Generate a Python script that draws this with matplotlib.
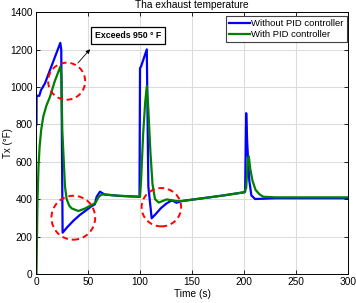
import numpy as np
import matplotlib
matplotlib.use("Agg")
import matplotlib.pyplot as plt
from matplotlib.patches import Ellipse

plt.rcParams['font.family'] = ['Liberation Sans', 'DejaVu Sans']

# without PID (blue)
t_nopid = [0.5, 0.6, 3.2, 4.8, 8.6, 23.4, 24.3, 25.6, 30, 36, 42, 48, 53.5, 56.5, 58.3, 61.5,
           66, 80, 99.5, 100, 101, 106.5, 108, 111.2, 115, 120, 125.6, 130, 132, 135, 140,
           160, 180, 200, 201, 202, 203, 205, 207, 210.6, 230, 300]
T_nopid = [800, 953, 953, 983, 1019, 1236, 1200, 221, 250, 285, 315, 340, 363, 372, 413, 440,
           425, 418, 413, 1100, 1110, 1201, 467, 298, 320, 352, 378, 392, 390, 381, 390,
           405, 420, 437, 440, 860, 700, 500, 420, 401, 405, 405]

# with PID (green)
t_pid = [0.5, 1.5, 2.5, 3.5, 5, 7, 10, 13.5, 18, 23.5, 24.5, 25.3, 27.9, 29.5, 32, 34.3, 40.7,
         47, 53.5, 57, 60, 63, 66, 80, 100, 101, 103, 105, 106.5, 108, 110, 112, 114.4, 118,
         125.6, 130, 135, 140, 160, 180, 200, 202, 203.5, 204.5, 206, 208, 211, 215, 218.6, 230, 300]
T_pid = [0, 400, 580, 680, 770, 841, 900, 948, 1030, 1110, 1050, 770, 467, 400, 365, 351, 337,
         350, 369, 380, 410, 425, 425, 418, 413, 500, 750, 920, 1005, 880, 650, 480, 400, 382,
         399, 395, 390, 390, 405, 420, 437, 460, 600, 630, 560, 500, 450, 425, 413, 410, 410]

# red dashed circles: centre t, centre T, width (s), height (degF)
circles = [(29.5, 1031, 35.6, 198), (35.9, 301, 42, 235), (120.5, 357, 38, 205)]

fig = plt.figure(figsize=(3.56, 3.03), dpi=100)
ax = fig.add_axes([0.101, 0.0957, 0.877, 0.864])

ax.plot(t_nopid, T_nopid, color=(0, 0, 1), lw=1.6, label='Without PID controller')
ax.plot(t_pid, T_pid, color=(0, 0.5, 0), lw=1.6, label='With PID controller')

for cx, cy, w, h in circles:
    ax.add_patch(Ellipse((cx, cy), w, h, fill=False, edgecolor='red', ls=(0, (3, 2)), lw=1.4, zorder=5))

ax.annotate('', xy=(53.8, 1213), xytext=(38.5, 1117),
            arrowprops=dict(arrowstyle='-|>', color='black', lw=0.6, mutation_scale=6))
ax.text(56.5, 1274, 'Exceeds 950 ° F', fontsize=6.3, fontweight='bold', va='center', ha='left',
        bbox=dict(boxstyle='square,pad=0.45', fc='white', ec='black', lw=0.9))

ax.set_xlim(0, 300)
ax.set_ylim(0, 1400)
ax.set_xticks(np.arange(0, 301, 50))
ax.set_yticks(np.arange(0, 1401, 200))
ax.grid(True, color='#dcdcdc', lw=0.8)
ax.tick_params(direction='in', length=3, labelsize=7.3, top=True, right=True, width=0.6, pad=2.5)
for s in ax.spines.values():
    s.set_linewidth(0.7)

ax.set_title('Tha exhaust temperature', fontsize=7.3, pad=3)
ax.set_xlabel('Time (s)', fontsize=7.3, labelpad=1)
ax.set_ylabel('Tx (°F)', fontsize=7)
ax.yaxis.set_label_coords(-0.072, 0.5)

leg = ax.legend(loc='upper right', fontsize=6.8, handlelength=2.3, handletextpad=0.1,
                borderpad=0.3, labelspacing=0.2, fancybox=False, framealpha=1,
                bbox_to_anchor=(0.995, 0.985), borderaxespad=0)
leg.get_frame().set_edgecolor('#404040')
leg.get_frame().set_linewidth(0.8)

fig.savefig('out.png', dpi=100)
